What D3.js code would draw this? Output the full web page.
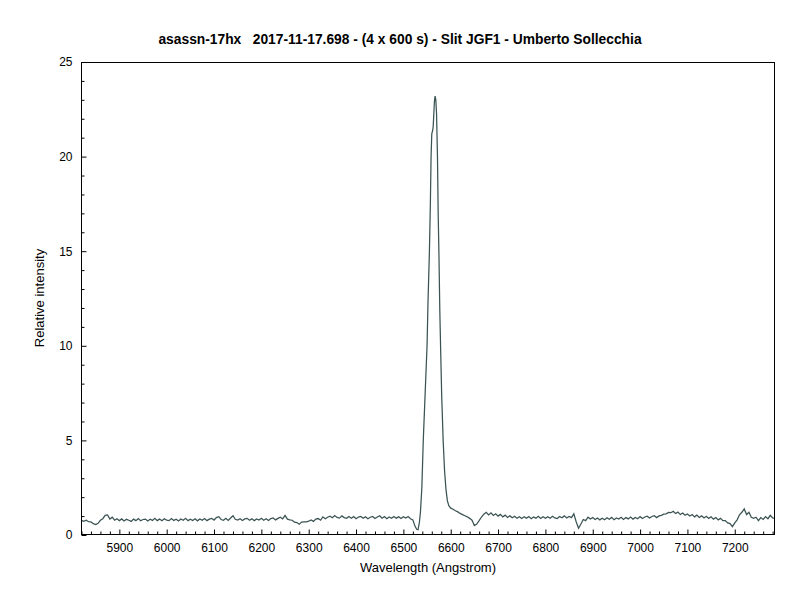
<!DOCTYPE html>
<html><head><meta charset="utf-8">
<script src="https://cdn.jsdelivr.net/npm/d3@7"></script>
<style>body{margin:0;background:#fff}svg{display:block}text{font-family:"Liberation Sans",Arial,sans-serif}</style>
</head><body><svg id="c" width="800" height="600"></svg>
<script>
const titleText = "asassn-17hx   2017-11-17.698 - (4 x 600 s) - Slit JGF1 - Umberto Sollecchia";
const xLabel = "Wavelength (Angstrom)";
const yLabel = "Relative intensity";
const xTicks = [5900,6000,6100,6200,6300,6400,6500,6600,6700,6800,6900,7000,7100,7200];
const yTicks = [0,5,10,15,20,25];
const wavelength = [
5820,5825,5830,5835,5840,5845,5850,5855,5860,5865,5870,5875,5880,5885,5890,5895,
5900,5905,5910,5915,5920,5925,5930,5935,5940,5945,5950,5955,5960,5965,5970,5975,5980,5985,5990,5995,
6000,6005,6010,6015,6020,6025,6030,6035,6040,6045,6050,6055,6060,6065,6070,6075,6080,6085,6090,6095,
6100,6105,6110,6115,6120,6125,6130,6135,6140,6145,6150,6155,6160,6165,6170,6175,6180,6185,6190,6195,
6200,6205,6210,6215,6220,6225,6230,6235,6240,6245,6250,6255,6260,6265,6270,6275,6280,6285,6290,6295,
6300,6305,6310,6315,6320,6325,6330,6335,6340,6345,6350,6355,6360,6365,6370,6375,6380,6385,6390,6395,
6400,6405,6410,6415,6420,6425,6430,6435,6440,6445,6450,6455,6460,6465,6470,6475,6480,6485,6490,6495,
6500,6505,6510,6515,6520,6524,6528,6531,6534,6536,6539,6542,6546,6550,6552,6555,6557,6558.5,6560,6562,
6563,6564,6565.5,6567,6568.5,6570,6572,6573.5,6575,6577,6579,6581,6584,6587,6590,6593,6596,
6600,6605,6610,6615,6620,6625,6630,6635,6640,6645,6650,6655,6660,6665,6670,6675,6680,6685,6690,6695,
6700,6705,6710,6715,6720,6725,6730,6735,6740,6745,6750,6755,6760,6765,6770,6775,6780,6785,6790,6795,
6800,6805,6810,6815,6820,6825,6830,6835,6840,6845,6850,6855,6860,6865,6870,6875,6880,6885,6890,6895,
6900,6905,6910,6915,6920,6925,6930,6935,6940,6945,6950,6955,6960,6965,6970,6975,6980,6985,6990,6995,
7000,7005,7010,7015,7020,7025,7030,7035,7040,7045,7050,7055,7060,7065,7070,7075,7080,7085,7090,7095,
7100,7105,7110,7115,7120,7125,7130,7135,7140,7145,7150,7155,7160,7165,7170,7175,7180,7185,7190,7195,
7200,7205,7210,7215,7220,7225,7230,7235,7240,7245,7250,7255,7260,7265,7270,7275,7280,7285];
const intensity = [
0.77,0.72,0.78,0.70,0.69,0.60,0.55,0.62,0.78,0.86,1.04,1.06,0.84,0.94,0.78,0.86,
0.76,0.85,0.74,0.83,0.78,0.72,0.84,0.76,0.87,0.75,0.82,0.84,0.74,0.83,0.77,0.88,0.76,0.84,0.75,0.86,
0.78,0.76,0.87,0.77,0.83,0.74,0.85,0.78,0.88,0.76,0.84,0.77,0.86,0.75,0.85,0.78,0.87,0.76,0.84,0.88,
0.79,0.92,0.97,0.82,0.78,0.88,0.77,0.90,1.02,0.83,0.79,0.86,0.77,0.85,0.88,0.78,0.86,0.76,0.85,0.79,
0.88,0.78,0.86,0.77,0.87,0.90,0.80,0.88,0.94,0.85,1.04,0.84,0.80,0.78,0.68,0.66,0.57,0.68,0.69,0.70,
0.73,0.80,0.72,0.84,0.87,0.78,0.96,0.86,0.94,0.99,0.91,1.03,0.93,0.89,1.01,0.92,0.88,0.98,0.89,0.97,
0.86,0.95,0.98,0.88,0.96,0.86,0.94,0.98,0.87,0.95,1.02,0.89,0.97,0.86,0.95,0.88,0.98,0.89,0.96,0.87,
0.97,0.90,0.98,0.86,0.80,0.50,0.30,0.28,0.70,1.2,2.5,5.0,7.5,10.0,12.3,15.0,17.5,20.0,21.2,21.4,
21.6,22.1,22.9,23.2,23.0,22.3,20.0,17.0,15.0,11.8,9.5,7.3,5.0,3.4,2.4,1.8,1.55,
1.42,1.36,1.28,1.22,1.14,1.08,1.02,0.96,0.88,0.78,0.50,0.58,0.76,0.95,1.10,1.20,1.06,1.17,1.03,1.12,
1.00,1.09,0.96,1.05,0.93,1.01,0.91,0.99,0.89,0.97,0.87,0.96,0.88,0.98,0.86,0.95,0.89,0.99,0.87,0.96,
0.88,0.97,0.89,0.99,0.90,0.87,0.98,0.91,1.01,0.90,0.98,0.92,1.12,0.70,0.36,0.58,0.82,0.76,0.94,0.84,
0.92,0.82,0.90,0.80,0.89,0.81,0.91,0.83,0.93,0.81,0.90,0.84,0.94,0.82,0.92,0.85,0.95,0.84,0.93,0.86,
0.97,0.87,0.95,0.99,0.90,0.98,1.02,0.92,1.01,1.04,1.10,1.12,1.19,1.18,1.25,1.14,1.21,1.08,1.16,1.04,
1.11,1.00,1.08,0.96,1.05,0.93,1.01,0.90,0.99,0.88,0.96,0.84,0.92,0.80,0.88,0.76,0.76,0.64,0.60,0.44,
0.64,0.80,1.07,1.20,1.38,1.08,1.20,0.94,0.88,0.94,0.76,0.92,0.82,0.97,0.86,1.04,0.90,0.88];

const svg = d3.select("#c");
const L = 81, R = 775, T = 62, B = 535;
const x = d3.scaleLinear().domain([5819, 7285]).range([L, R]);
const y = d3.scaleLinear().domain([0, 25]).range([B, T]);

svg.append("text").attr("x", 400).attr("y", 44).attr("text-anchor", "middle")
  .attr("font-size", 13.8).attr("font-weight", "bold").style("white-space", "pre").text(titleText);

const data = wavelength.map((w, i) => [w, intensity[i]]);
svg.append("defs").append("clipPath").attr("id", "clip").append("rect")
  .attr("x", L).attr("y", T).attr("width", R - L).attr("height", B - T);
svg.append("path").datum(data).attr("clip-path", "url(#clip)")
  .attr("fill", "none").attr("stroke", "#3b5353").attr("stroke-width", 1.25)
  .attr("d", d3.line().x(d => x(d[0])).y(d => y(d[1])));

svg.append("rect").attr("x", L + 0.5).attr("y", T + 0.5).attr("width", R - L - 1).attr("height", B - T - 1)
  .attr("fill", "none").attr("stroke", "#000");

const xMinor = d3.range(5820, 7285, 20).filter(v => v % 100 !== 0);
const gx = svg.append("g").attr("transform", `translate(0,${B - 0.5})`);
gx.call(d3.axisBottom(x).tickValues(xMinor).tickSize(-3).tickFormat(""));
gx.append("g").call(d3.axisBottom(x).tickValues(xTicks).tickSize(-5).tickPadding(9).tickFormat(d3.format("d")));
gx.selectAll(".domain").remove();
gx.selectAll("line").attr("stroke", "#000");
gx.selectAll("text").attr("font-size", 12).attr("fill", "#000").attr("font-family", "'Liberation Sans',Arial,sans-serif");

const yMinor = d3.range(1, 25, 1).filter(v => v % 5 !== 0);
const gy = svg.append("g").attr("transform", `translate(${L + 0.5},0)`);
gy.call(d3.axisLeft(y).tickValues(yMinor).tickSize(-3).tickFormat(""));
gy.append("g").call(d3.axisLeft(y).tickValues(yTicks).tickSize(-5).tickPadding(9).tickFormat(d3.format("d")));
gy.selectAll(".domain").remove();
gy.selectAll("line").attr("stroke", "#000");
gy.selectAll("text").attr("font-size", 12).attr("fill", "#000").attr("font-family", "'Liberation Sans',Arial,sans-serif");

svg.append("text").attr("x", 428).attr("y", 572).attr("text-anchor", "middle").attr("font-size", 13).text(xLabel);
svg.append("text").attr("transform", "translate(44,298) rotate(-90)").attr("text-anchor", "middle").attr("font-size", 13).text(yLabel);
</script></body></html>
